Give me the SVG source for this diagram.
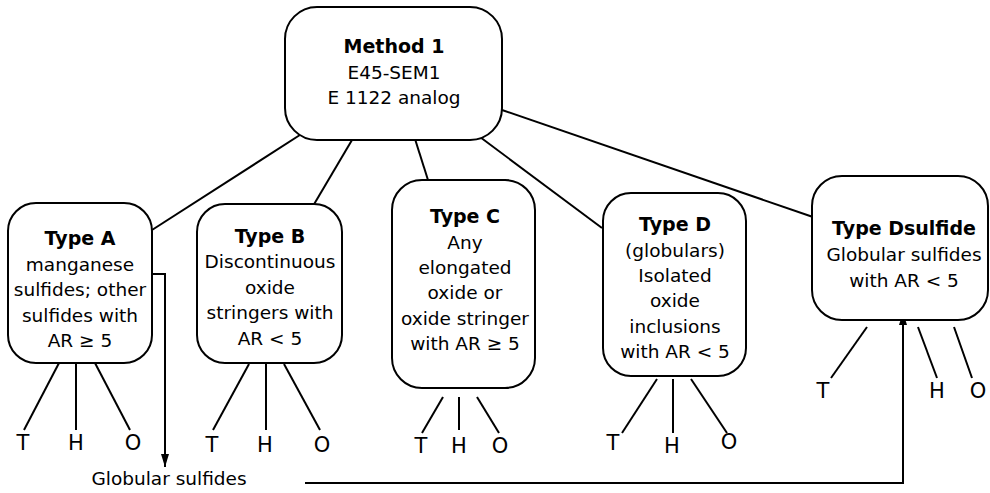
<svg xmlns="http://www.w3.org/2000/svg" width="990" height="493" viewBox="0 0 990 493">
<style>
.box{fill:#fff;stroke:#000;stroke-width:2}
.ln{fill:none;stroke:#000;stroke-width:2}
text{font-family:"DejaVu Sans",Verdana,sans-serif;font-size:18.5px;fill:#000;text-anchor:middle}
.b{font-weight:bold;font-size:19px}
.l{font-size:21px}
</style>
<defs>
<marker id="ah" viewBox="0 0 13 8" refX="13" refY="4" markerWidth="13" markerHeight="8" markerUnits="userSpaceOnUse" orient="auto">
<path d="M0,0 L13,4 L0,8 z" fill="#000"/>
</marker>
</defs>
<g id="connectors">
<line class="ln" x1="303" y1="133" x2="152" y2="230"/>
<line class="ln" x1="352" y1="140" x2="313" y2="206"/>
<line class="ln" x1="415" y1="139" x2="428" y2="180"/>
<line class="ln" x1="480" y1="137" x2="602" y2="228"/>
<line class="ln" x1="502" y1="110" x2="813" y2="217"/>
<polyline class="ln" points="152,274 165,274 165,467" marker-end="url(#ah)"/>
<polyline class="ln" points="305,483 903,483 903,312" marker-end="url(#ah)"/>
<line class="ln" x1="59" y1="363" x2="24" y2="430"/>
<line class="ln" x1="76" y1="363" x2="76" y2="430"/>
<line class="ln" x1="95" y1="363" x2="130" y2="430"/>
<line class="ln" x1="249" y1="364" x2="213" y2="430"/>
<line class="ln" x1="266" y1="364" x2="266" y2="430"/>
<line class="ln" x1="284" y1="364" x2="320" y2="430"/>
<line class="ln" x1="443" y1="397" x2="422" y2="433"/>
<line class="ln" x1="459" y1="397" x2="459" y2="430"/>
<line class="ln" x1="477" y1="397" x2="499" y2="433"/>
<line class="ln" x1="657" y1="379" x2="622" y2="433"/>
<line class="ln" x1="673" y1="379" x2="673" y2="433"/>
<line class="ln" x1="691" y1="379" x2="727" y2="433"/>
<line class="ln" x1="867" y1="327" x2="831" y2="378"/>
<line class="ln" x1="918" y1="327" x2="937" y2="378"/>
<line class="ln" x1="954" y1="327" x2="972" y2="378"/>
</g>
<g id="method1">
<rect class="box" x="285" y="7" width="217" height="133" rx="32"/>
<text class="b" x="394" y="53">Method 1</text>
<text x="394" y="78.5">E45-SEM1</text>
<text x="394" y="104">E 1122 analog</text>
</g>
<g id="typeA">
<rect class="box" x="8" y="203" width="144" height="160" rx="28"/>
<text class="b" x="80" y="245">Type A</text>
<text x="80" y="270.5">manganese</text>
<text x="80" y="296">sulfides; other</text>
<text x="80" y="321.5">sulfides with</text>
<text x="80" y="347">AR ≥ 5</text>
</g>
<g id="typeB">
<rect class="box" x="197" y="204" width="145" height="159" rx="28"/>
<text class="b" x="270" y="243">Type B</text>
<text x="270" y="268">Discontinuous</text>
<text x="270" y="293.5">oxide</text>
<text x="270" y="319">stringers with</text>
<text x="270" y="344.5">AR &lt; 5</text>
</g>
<g id="typeC">
<rect class="box" x="392" y="180" width="143" height="208" rx="30"/>
<text class="b" x="465" y="223">Type C</text>
<text x="465" y="248.5">Any</text>
<text x="465" y="274">elongated</text>
<text x="465" y="299">oxide or</text>
<text x="465" y="324.5">oxide stringer</text>
<text x="465" y="350">with AR ≥ 5</text>
</g>
<g id="typeD">
<rect class="box" x="603" y="193" width="143" height="183" rx="28"/>
<text class="b" x="675" y="231">Type D</text>
<text x="675" y="256.5">(globulars)</text>
<text x="675" y="282">Isolated</text>
<text x="675" y="307">oxide</text>
<text x="675" y="332.5">inclusions</text>
<text x="675" y="358">with AR &lt; 5</text>
</g>
<g id="typeDsulfide">
<rect class="box" x="812" y="176" width="176" height="144" rx="30"/>
<text class="b" x="904" y="235">Type Dsulfide</text>
<text x="904" y="261">Globular sulfides</text>
<text x="904" y="287">with AR &lt; 5</text>
</g>
<g id="labels">
<text class="l" x="23" y="450">T</text>
<text class="l" x="76" y="450">H</text>
<text class="l" x="133" y="450">O</text>
<text class="l" x="212" y="452">T</text>
<text class="l" x="265" y="452">H</text>
<text class="l" x="322" y="452">O</text>
<text class="l" x="421" y="453">T</text>
<text class="l" x="459" y="453">H</text>
<text class="l" x="500" y="453">O</text>
<text class="l" x="613" y="450">T</text>
<text class="l" x="672" y="453">H</text>
<text class="l" x="729" y="449">O</text>
<text class="l" x="823" y="398">T</text>
<text class="l" x="937" y="398">H</text>
<text class="l" x="978" y="398">O</text>
<text x="169" y="485">Globular sulfides</text>
</g>
</svg>
